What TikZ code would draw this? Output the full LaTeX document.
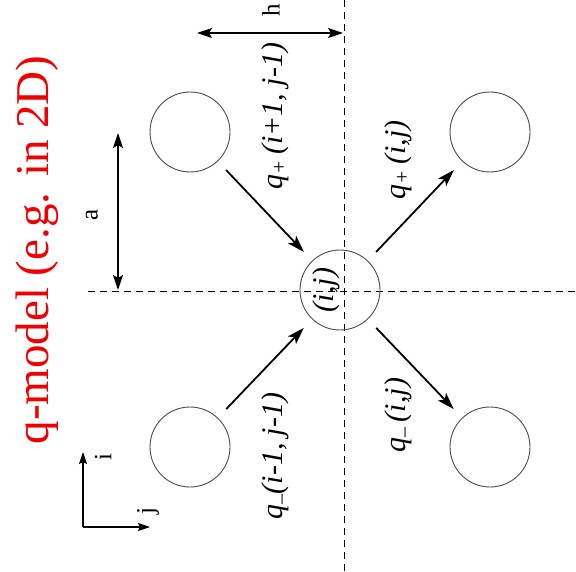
\documentclass[tikz,border=0pt]{standalone}
\usepackage{fontspec}
\setmainfont{Liberation Serif}
\usetikzlibrary{arrows.meta}
\definecolor{titlered}{RGB}{240,0,0}
\begin{document}
\begin{tikzpicture}[x=1pt,y=-1pt,
  site/.style={draw=black!70, line width=0.9pt, circle, minimum size=80pt, inner sep=0pt},
  flow/.style={line width=1.8pt, shorten >=12pt, shorten <=12pt, -{Stealth[length=17pt,width=11pt,inset=4pt]}},
  dimen/.style={line width=1.3pt, {Stealth[length=15pt,width=10pt,inset=3pt]}-{Stealth[length=15pt,width=10pt,inset=3pt]}},
  axis/.style={line width=1.1pt, -{Stealth[length=12pt,width=8pt,inset=2pt]}},
  gridline/.style={line width=0.9pt, dash pattern=on 7pt off 5pt},
  lbl/.style={rotate=90, font=\fontsize{30}{32}\selectfont\itshape, inner sep=0pt},
  small/.style={rotate=90, font=\fontsize{25}{27}\selectfont, inner sep=0pt},
  title/.style={rotate=90, font=\fontsize{47}{49}\selectfont, text=titlered, inner sep=0pt}]
\useasboundingbox (0,0) rectangle (576,572);
% grid lines
\coordinate (vt) at (344,0);
\coordinate (vb) at (344,572);
\coordinate (hl) at (88,291);
\coordinate (hr) at (576,291);
\draw[gridline] (vt) -- (vb);
\draw[gridline] (hl) -- (hr);
% sites
\node[site] (ul) at (190,132) {};
\node[site] (ur) at (490,132) {};
\node[site] (ll) at (190,447) {};
\node[site] (lr) at (490,447) {};
\node[site] (c) at (340,290) {};
\node[lbl] (cl) at (326,290) {(i,j)};
% flows
\draw[flow] (ul) -- (c);
\draw[flow] (ll) -- (c);
\draw[flow] (c) -- (ur);
\draw[flow] (c) -- (lr);
% flow labels
\node[lbl] (l1) at (275,116) {q\textsubscript{+}\,(i+1, j-1)};
\node[lbl] (l2) at (398,160) {q\textsubscript{+}\,(i,j)};
\node[lbl] (l3) at (275,456) {q{\fontsize{20}{20}\selectfont\raisebox{2pt}{\_}}(i-1, j-1)};
\node[lbl] (l4) at (398,415) {q{\fontsize{20}{20}\selectfont\raisebox{2pt}{\_}}\,(i,j)};
% dimensions
\coordinate (h1) at (197,33);
\coordinate (h2) at (343,33);
\draw[dimen] (h1) -- (h2);
\node[small] (hlab) at (271,10) {h};
\coordinate (a1) at (118,133);
\coordinate (a2) at (118,290);
\draw[dimen] (a1) -- (a2);
\node[small] (alab) at (92,215) {a};
% axes
\coordinate (o) at (83,527);
\coordinate (ai) at (83,452);
\coordinate (aj) at (150,527);
\draw[axis] (o) -- (ai);
\draw[axis] (o) -- (aj);
\node[small] (ilab) at (103,457) {i};
\node[small] (jlab) at (148,511) {j};
% title
\node[title] (ttl) at (37,250) {q-model (e.g. in 2D)};
\end{tikzpicture}
\end{document}
